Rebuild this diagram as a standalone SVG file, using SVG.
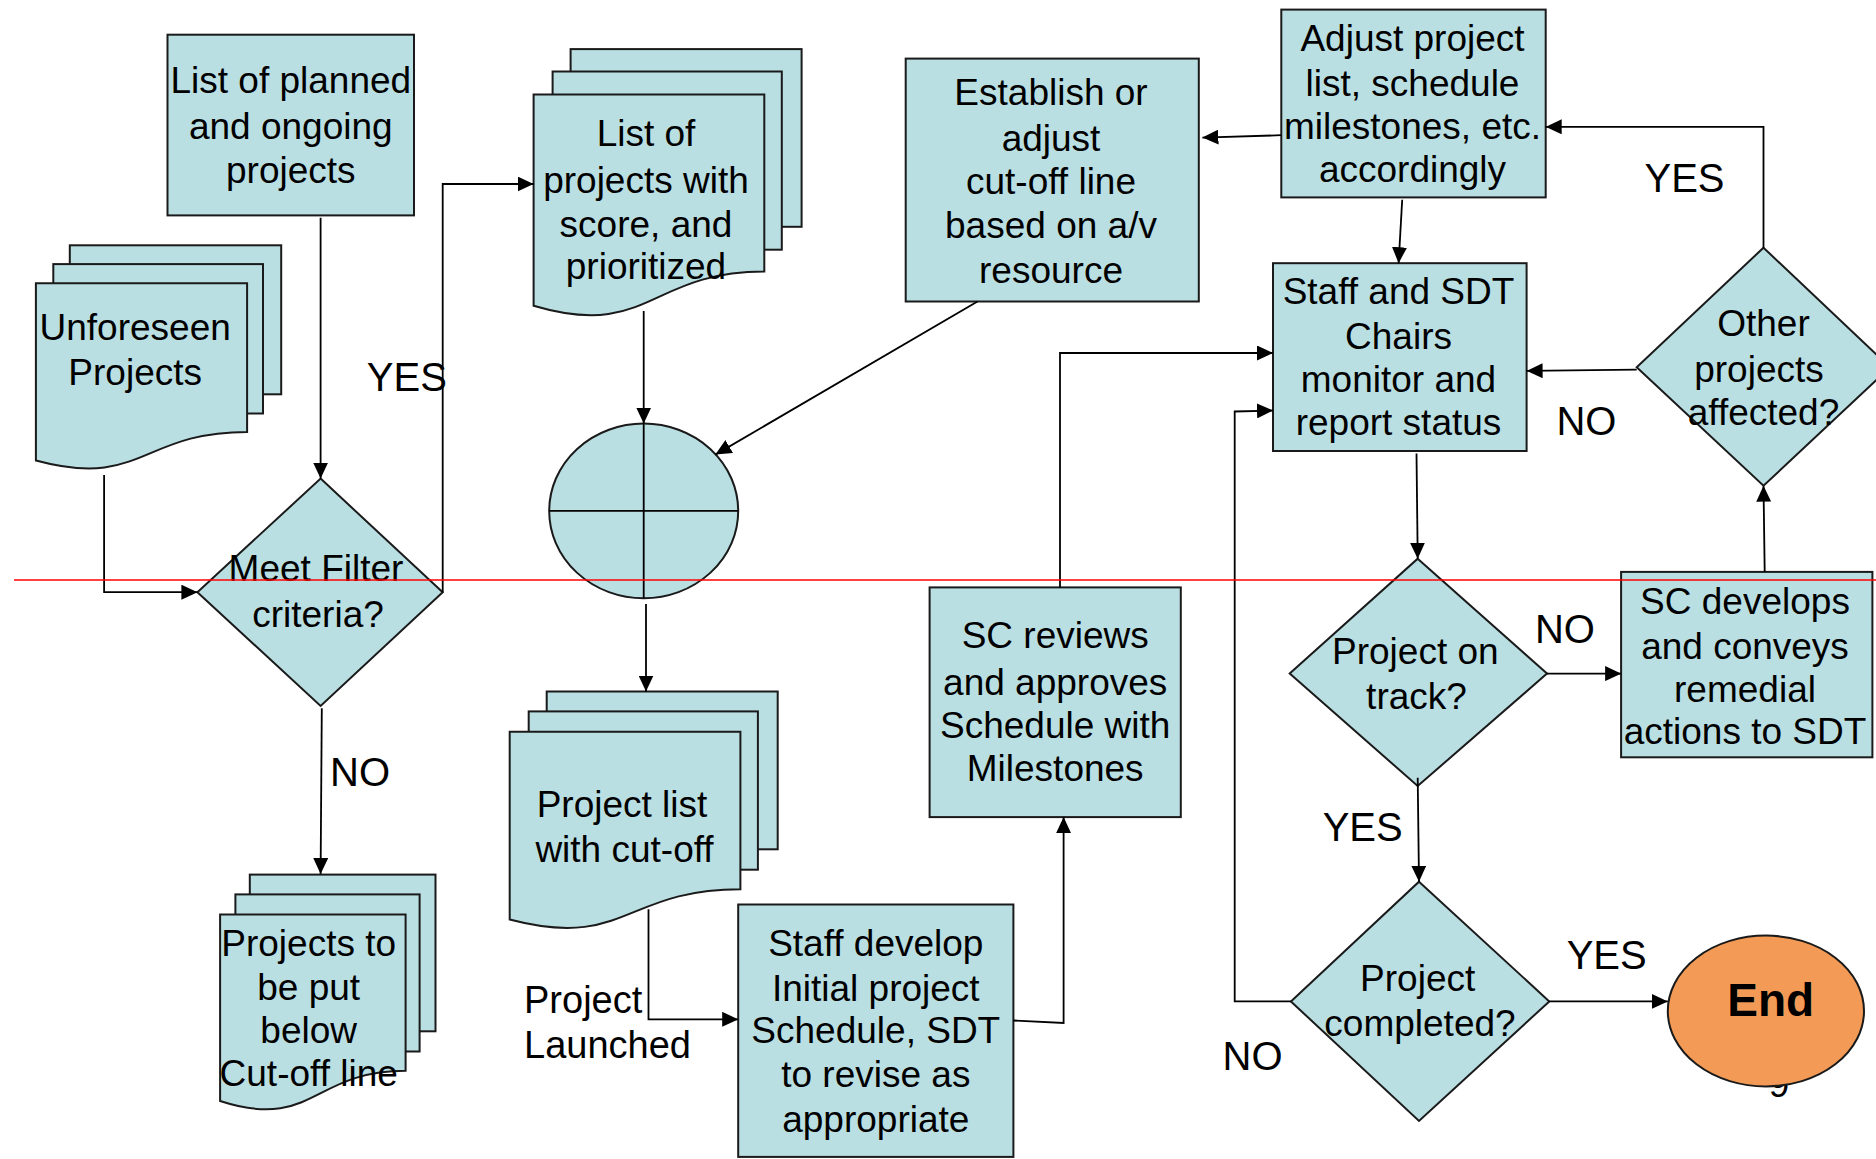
<svg xmlns="http://www.w3.org/2000/svg" width="1876" height="1159" viewBox="0 0 1876 1159">
<defs>
<style>
.s{fill:#BADFE3;stroke:#1a1a1a;stroke-width:2}
.t{font-family:"Liberation Sans",Arial,sans-serif;font-size:37px;text-anchor:middle;fill:#000}
.y{font-family:"Liberation Sans",Arial,sans-serif;font-size:40px;text-anchor:middle;fill:#000}
.l{font-family:"Liberation Sans",Arial,sans-serif;font-size:38px;fill:#000}
.c{fill:none;stroke:#000;stroke-width:1.8}
</style>
<marker id="ah" viewBox="0 0 16 15" refX="16" refY="7.5" markerWidth="16" markerHeight="15" markerUnits="userSpaceOnUse" orient="auto"><path d="M0,0 L16,7.5 L0,15 z" fill="#000"/></marker>
</defs>
<rect width="1876" height="1159" fill="#fff"/>

<g id="n-planned">
<rect class="s" x="167.5" y="34.7" width="246.5" height="180.7"/>
<text class="t" x="290.8" y="93">List of planned</text>
<text class="t" x="290.8" y="138.6">and ongoing</text>
<text class="t" x="290.8" y="183">projects</text>
</g>

<g id="n-unforeseen">
<rect class="s" x="69.8" y="245.3" width="211.4" height="149"/>
<rect class="s" x="53.3" y="264.1" width="209.7" height="149.4"/>
<path class="s" d="M35.9,283.3 H247.1 V431.9 C141.4,431.9 141.4,489.1 35.9,460.5 Z"/>
<text class="t" x="135.2" y="339.6">Unforeseen</text>
<text class="t" x="135.2" y="385">Projects</text>
</g>

<g id="n-scored">
<rect class="s" x="570.6" y="49.1" width="231" height="177.7"/>
<rect class="s" x="552.6" y="71.5" width="229.2" height="178.2"/>
<path class="s" d="M533.6,94.5 H764.3 V271.6 C648.8,271.6 648.8,339.9 533.6,305.8 Z"/>
<text class="t" x="646" y="145.8">List of</text>
<text class="t" x="646" y="192.5">projects with</text>
<text class="t" x="646" y="236.7">score, and</text>
<text class="t" x="646" y="278.6">prioritized</text>
</g>

<g id="n-establish">
<rect class="s" x="905.7" y="58.6" width="293.1" height="242.9"/>
<text class="t" x="1051" y="105.1">Establish or</text>
<text class="t" x="1051" y="150.6">adjust</text>
<text class="t" x="1051" y="193.7">cut-off line</text>
<text class="t" x="1051" y="237.9">based on a/v</text>
<text class="t" x="1051" y="283.4">resource</text>
</g>

<g id="n-adjust">
<rect class="s" x="1281.3" y="9.6" width="264.4" height="187.8"/>
<text class="t" x="1412.5" y="51.3">Adjust project</text>
<text class="t" x="1412.5" y="95.6">list, schedule</text>
<text class="t" x="1412.5" y="138.6">milestones, etc.</text>
<text class="t" x="1412.5" y="181.7">accordingly</text>
</g>

<g id="n-monitor">
<rect class="s" x="1273" y="263.2" width="253.6" height="187.8"/>
<text class="t" x="1398.5" y="303.7">Staff and SDT</text>
<text class="t" x="1398.5" y="349.2">Chairs</text>
<text class="t" x="1398.5" y="392.3">monitor and</text>
<text class="t" x="1398.5" y="435.3">report status</text>
</g>

<g id="n-other">
<path class="s" d="M1763.5,247.7 L1890,367.3 L1763.5,485.7 L1636.7,367.3 Z"/>
<text class="t" x="1763.5" y="336">Other</text>
<text class="t" x="1759" y="381.5">projects</text>
<text class="t" x="1763.5" y="424.6">affected?</text>
</g>

<g id="n-sort">
<ellipse class="s" cx="643.7" cy="510.9" rx="94.5" ry="87.3"/>
<line class="c" x1="643.7" y1="423.6" x2="643.7" y2="598.2"/>
<line class="c" x1="549.2" y1="510.9" x2="738.2" y2="510.9"/>
</g>

<g id="n-filter">
<path class="s" d="M320.6,478.6 L442.7,592.2 L320.6,705.9 L197.4,592.2 Z"/>
<text class="t" x="316" y="581.3">Meet Filter</text>
<text class="t" x="318" y="626.8">criteria?</text>
</g>

<g id="n-below">
<rect class="s" x="249.8" y="874.6" width="185.7" height="156.7"/>
<rect class="s" x="235.4" y="894.4" width="184.2" height="157.1"/>
<path class="s" d="M220.1,914.6 H405.6 V1070.8 C312.7,1070.8 312.7,1131.1 220.1,1101 Z"/>
<text class="t" x="308.7" y="955.8">Projects to</text>
<text class="t" x="308.7" y="1000">be put</text>
<text class="t" x="308.7" y="1043">below</text>
<text class="t" x="308.7" y="1086">Cut-off line</text>
</g>

<g id="n-cutoff">
<rect class="s" x="546.7" y="691.5" width="231" height="157.8"/>
<rect class="s" x="528.7" y="711.4" width="229.2" height="158.3"/>
<path class="s" d="M509.7,731.8 H740.4 V889.2 C624.9,889.2 624.9,949.8 509.7,919.5 Z"/>
<text class="t" x="622" y="817">Project list</text>
<text class="t" x="624.5" y="862.4">with cut-off</text>
</g>

<g id="n-review">
<rect class="s" x="929.6" y="587.4" width="251.2" height="229.7"/>
<text class="t" x="1055.2" y="648.3">SC reviews</text>
<text class="t" x="1055.2" y="695">and approves</text>
<text class="t" x="1055.2" y="738">Schedule with</text>
<text class="t" x="1055.2" y="781.1">Milestones</text>
</g>

<g id="n-develop">
<rect class="s" x="738.2" y="904.5" width="275.2" height="252.4"/>
<text class="t" x="875.8" y="955.8">Staff develop</text>
<text class="t" x="875.8" y="1001.2">Initial project</text>
<text class="t" x="875.8" y="1043.1">Schedule, SDT</text>
<text class="t" x="875.8" y="1087.4">to revise as</text>
<text class="t" x="875.8" y="1131.6">appropriate</text>
</g>

<g id="n-ontrack">
<path class="s" d="M1417.7,558.7 L1547,673.6 L1417.7,786 L1289.7,673.6 Z"/>
<text class="t" x="1415.3" y="663.8">Project on</text>
<text class="t" x="1416.5" y="709.3">track?</text>
</g>

<g id="n-remedial">
<rect class="s" x="1621.1" y="571.9" width="251.3" height="185.4"/>
<text class="t" x="1745" y="613.6">SC develops</text>
<text class="t" x="1745" y="659">and conveys</text>
<text class="t" x="1745" y="702.1">remedial</text>
<text class="t" x="1745" y="744">actions to SDT</text>
</g>

<g id="n-completed">
<path class="s" d="M1419,881.7 L1549.3,1001.4 L1419,1121 L1290.9,1001.4 Z"/>
<text class="t" x="1417.7" y="990.5">Project</text>
<text class="t" x="1420" y="1035.9">completed?</text>
</g>

<text class="t" x="1779" y="1097">9</text>
<g id="n-end">
<ellipse cx="1765.9" cy="1011" rx="98.1" ry="75.4" fill="#F39B56" stroke="#1a1a1a" stroke-width="2"/>
<text x="1770.7" y="1016" font-family="Liberation Sans,Arial,sans-serif" font-size="46" font-weight="bold" text-anchor="middle">End</text>
</g>

<g id="connectors">
<polyline class="c" points="320.6,217.7 320.6,478.6" marker-end="url(#ah)"/>
<polyline class="c" points="104.1,475 104.1,592.2 197.4,592.2" marker-end="url(#ah)"/>
<polyline class="c" points="442.7,592.2 442.7,184 533.6,184" marker-end="url(#ah)"/>
<polyline class="c" points="321.8,708.3 320.6,874" marker-end="url(#ah)"/>
<polyline class="c" points="643.7,311 643.7,423.6" marker-end="url(#ah)"/>
<polyline class="c" points="977.5,301.5 715.4,454.6" marker-end="url(#ah)"/>
<polyline class="c" points="646,604 646,691.5" marker-end="url(#ah)"/>
<polyline class="c" points="648.5,909.3 648.5,1019.3 738.2,1019.3" marker-end="url(#ah)"/>
<polyline class="c" points="1013.4,1020.5 1063.6,1023 1063.6,817.1" marker-end="url(#ah)"/>
<polyline class="c" points="1060,587.4 1060,353 1273,353" marker-end="url(#ah)"/>
<polyline class="c" points="1290.9,1001.4 1234.7,1001.4 1234.7,411.5 1273,410.5" marker-end="url(#ah)"/>
<polyline class="c" points="1402.2,199.8 1398.6,263.2" marker-end="url(#ah)"/>
<polyline class="c" points="1281.3,135.2 1202.4,137.6" marker-end="url(#ah)"/>
<polyline class="c" points="1636.7,369.7 1526.6,370.9" marker-end="url(#ah)"/>
<polyline class="c" points="1763.5,247.7 1763.5,126.8 1545.7,126.8" marker-end="url(#ah)"/>
<polyline class="c" points="1416.5,453.4 1417.7,558.7" marker-end="url(#ah)"/>
<polyline class="c" points="1547,673.6 1621.1,673.6" marker-end="url(#ah)"/>
<polyline class="c" points="1764.7,571.9 1763.5,485.7" marker-end="url(#ah)"/>
<polyline class="c" points="1417.7,777.7 1419,881.7" marker-end="url(#ah)"/>
<polyline class="c" points="1549.3,1001.4 1667.8,1001.4" marker-end="url(#ah)"/>
<text class="y" x="406.8" y="391">YES</text>
<text class="y" x="360.1" y="785.7">NO</text>
<text class="l" x="524" y="1012.5">Project</text>
<text class="l" x="524" y="1058">Launched</text>
<text class="y" x="1684.5" y="192.3">YES</text>
<text class="y" x="1586.4" y="435.1">NO</text>
<text class="y" x="1564.9" y="643.3">NO</text>
<text class="y" x="1362.7" y="840.7">YES</text>
<text class="y" x="1606.7" y="968.7">YES</text>
<text class="y" x="1252.6" y="1070.4">NO</text>
</g>

<line x1="14" y1="580" x2="1876" y2="580" stroke="#FF0000" stroke-width="1.5"/>
</svg>
